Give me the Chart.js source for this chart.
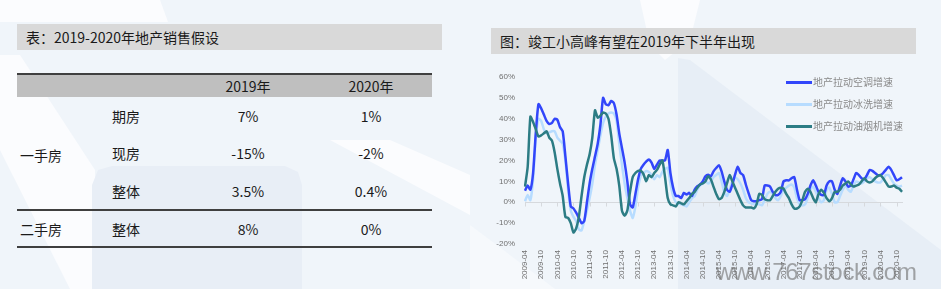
<!DOCTYPE html>
<html>
<head>
<meta charset="utf-8">
<script src="https://cdn.jsdelivr.net/npm/chart.js@4.4.1/dist/chart.umd.min.js"></script>
<style>
html,body{margin:0;padding:0;}
body{width:941px;height:289px;overflow:hidden;position:relative;background:#f0f5fa;font-family:"Noto Sans CJK SC","Microsoft YaHei",sans-serif;color:#1a1a1a;}
.abs{position:absolute;}
.deco{position:absolute;left:0;top:0;width:941px;height:289px;}
.bar{position:absolute;background:#d9d9d9;font-size:14px;line-height:26px;white-space:nowrap;}
.rule{position:absolute;left:17px;width:415px;height:2px;background:#3f3f3f;}
.cell{position:absolute;font-size:14px;line-height:20px;white-space:nowrap;}
.c3{left:188px;width:120px;text-align:center;}
.c4{left:311px;width:120px;text-align:center;}
.lg{position:absolute;left:786px;font-size:10px;color:#8a8a8a;line-height:14px;white-space:nowrap;}
.lg i{display:inline-block;width:26px;height:2.5px;vertical-align:middle;margin-right:1px;margin-top:-2px;}
#wm{position:absolute;left:716px;top:258px;font-family:"Liberation Sans",Arial,sans-serif;font-size:24px;color:rgba(110,110,110,0.6);white-space:nowrap;letter-spacing:-0.3px;}
</style>
</head>
<body>
<!-- background decoration -->
<div class="deco" style="background:#fbfcfe;clip-path:polygon(0 0,160px 0,168px 22px,0 22px);"></div>
<div class="deco" style="background:#fbfcfe;clip-path:polygon(0 55px,20px 55px,95px 170px,95px 289px,70px 289px,0 150px);"></div>
<div class="deco" style="background:#e8eef6;clip-path:polygon(92px 185px,98px 170px,112px 166px,285px 166px,298px 172px,302px 185px,302px 289px,92px 289px);"></div>
<div class="deco" style="background:#fbfcfe;clip-path:polygon(330px 140px,390px 140px,470px 175px,470px 215px);"></div>
<div class="deco" style="background:#fbfcfe;clip-path:polygon(640px 0,700px 0,690px 40px,665px 60px,650px 45px);"></div>
<div class="deco" style="background:#e7eef6;clip-path:polygon(678px 58px,690px 60px,941px 250px,941px 289px,678px 289px);"></div>
<div class="deco" style="background:#f6f9fc;clip-path:polygon(470px 225px,555px 289px,470px 289px);"></div>

<!-- left table -->
<div class="bar" style="left:17px;top:24px;width:425px;height:26px;"><span style="padding-left:9px;">表：2019-2020年地产销售假设</span></div>
<div class="rule" style="top:73px;"></div>
<div class="abs" style="left:17px;top:75px;width:415px;height:22px;background:#bfbfbf;"></div>
<div class="cell c3" style="top:76px;">2019年</div>
<div class="cell c4" style="top:76px;">2020年</div>

<div class="cell" style="left:112px;top:106px;">期房</div>
<div class="cell c3" style="top:106px;">7%</div>
<div class="cell c4" style="top:106px;">1%</div>

<div class="cell" style="left:20px;top:145px;">一手房</div>
<div class="cell" style="left:112px;top:143px;">现房</div>
<div class="cell c3" style="top:143px;">-15%</div>
<div class="cell c4" style="top:143px;">-2%</div>

<div class="cell" style="left:112px;top:181px;">整体</div>
<div class="cell c3" style="top:181px;">3.5%</div>
<div class="cell c4" style="top:181px;">0.4%</div>

<div class="rule" style="top:209px;"></div>

<div class="cell" style="left:20px;top:219px;">二手房</div>
<div class="cell" style="left:112px;top:219px;">整体</div>
<div class="cell c3" style="top:219px;">8%</div>
<div class="cell c4" style="top:219px;">0%</div>

<div class="rule" style="top:246px;"></div>

<!-- right chart -->
<div class="bar" style="left:491px;top:28px;width:425px;height:26px;"><span style="padding-left:9px;">图：竣工小高峰有望在2019年下半年出现</span></div>
<canvas id="c" width="450" height="229" style="position:absolute;left:470px;top:60px;"></canvas>
<div class="lg" style="top:75px;"><i style="background:#3246fa"></i>地产拉动空调增速</div>
<div class="lg" style="top:97px;"><i style="background:#b7dcff"></i>地产拉动冰洗增速</div>
<div class="lg" style="top:119px;"><i style="background:#2c7c84"></i>地产拉动油烟机增速</div>
<div id="wm">www.767stock.com</div>

<script>
// ---- data ----
const categories = [
"2009-04","2009-05","2009-06","2009-07","2009-08","2009-09","2009-10","2009-11","2009-12",
"2010-01","2010-02","2010-03","2010-04","2010-05","2010-06","2010-07","2010-08","2010-09","2010-10","2010-11","2010-12",
"2011-01","2011-02","2011-03","2011-04","2011-05","2011-06","2011-07","2011-08","2011-09","2011-10","2011-11","2011-12",
"2012-01","2012-02","2012-03","2012-04","2012-05","2012-06","2012-07","2012-08","2012-09","2012-10","2012-11","2012-12",
"2013-01","2013-02","2013-03","2013-04","2013-05","2013-06","2013-07","2013-08","2013-09","2013-10","2013-11","2013-12",
"2014-01","2014-02","2014-03","2014-04","2014-05","2014-06","2014-07","2014-08","2014-09","2014-10","2014-11","2014-12",
"2015-01","2015-02","2015-03","2015-04","2015-05","2015-06","2015-07","2015-08","2015-09","2015-10","2015-11","2015-12",
"2016-01","2016-02","2016-03","2016-04","2016-05","2016-06","2016-07","2016-08","2016-09","2016-10","2016-11","2016-12",
"2017-01","2017-02","2017-03","2017-04","2017-05","2017-06","2017-07","2017-08","2017-09","2017-10","2017-11","2017-12",
"2018-01","2018-02","2018-03","2018-04","2018-05","2018-06","2018-07","2018-08","2018-09","2018-10","2018-11","2018-12",
"2019-01","2019-02","2019-03","2019-04","2019-05","2019-06","2019-07","2019-08","2019-09","2019-10","2019-11","2019-12",
"2020-01","2020-02","2020-03","2020-04","2020-05","2020-06","2020-07","2020-08","2020-09","2020-10","2020-11","2020-12"
];

// 地产拉动空调增速 (%)
const airConGrowth = [
5.5,8,6,14,33,47,45,42,39,37.5,38,40,39.5,36,
34,22,9,-2,-3,-5,-7.5,-10,-9,0,9,16,22,28,
37,50,47,46.5,48.5,47.5,42,33,26,19,10,-1,-2.5,4,11,16,18,19.5,20.5,19,16,18,20,20,20,25,14,7,3,3,2,4.5,
3.7,4.5,3,6,7.7,8.5,10,12.4,13.2,12.4,14.8,16.4,17.7,14.8,10,6,5,8.5,13.2,17,14,13,8.5,4.5,
1,0.5,0.5,1,1.5,8,8,7.5,5,3.5,3.5,5,10,10.5,10.5,11.5,12,6,1,1,1.5,4,8,10.5,8,5,3.5,3.5,8,10,
10,6,4,8,11.5,10,7.5,8,11,14,13,11.5,11,13,15.5,15,14,13,13,14,15.5,17,15.5,13,10.5,11,12
];

// 地产拉动冰洗增速 (%)
const fridgeWasherGrowth = [
0.5,3.5,1,11,31,40,39,35,33,33.5,34,34,31,29.5,
28,20,6,-4,-7,-9,-13,-13.5,-9,-4,2,9,18,25,
32,38,41,42.5,43,42.5,39,28,18,9,2,-4,-7.5,-2,7,12.5,14,15,14.5,13,11,13,12,14.5,16,16.5,9,3,0,-0.5,-1,-1.5,
-2,0,2,3,6,8,9,10,9,10,12,13,14,10,5,3,6,10,12,11,9,6,2,0,
-0.5,-1,-0.5,-1,-1.5,1,4,5,4,2,1,3,6,7,8,8.5,7,2,-1,-1.5,-1,2,6,7.5,5,2,0,1,6,7,
4,0,0,3,6,8,6,5,8,10,9.5,9,10,11.5,12,11,10,9.5,9.5,11,13,13,11,9,8,7.5,8
];

// 地产拉动油烟机增速 (%)
const rangeHoodGrowth = [
7.5,17,41,38.5,35,31.5,32,33,34,31,29.5,24,16,9,
3,-7,-7.5,-10,-14.5,-12.5,-7,3,12,18,23,31,44,40.5,
41.5,43,42.5,40,32,21,16,8,-4,-6.5,-4,5,12,14,15,15,13.5,10,13,12,14,15.5,18,20,12,2,-1,-1.5,-2,0,-0.5,-1,
0.5,2,4,5,7,8.5,9,10,12.5,11,7.5,4,1.5,2,5,9,13,10,7,4,1,-1.5,-2.5,-2.5,
-2.5,-3,-1,4,3.5,1.5,1,1,3,5,6.5,7,6.5,4,2,-1,-3,-3,-2,1,5,6.5,5,2,0,4,6,4.5,2,0.5,
2,5,5,6,8,9,10,8.5,7.5,8,8.5,10,11.5,10,9.5,10,11.5,12.5,13,11.5,9.5,7.5,7.5,8,7,6.5,5
];

const yTicks = { min: -20, max: 60, step: 10 };
const labelEvery = 6;

// ---- chart ----
const zeroLine = {
  id: 'zeroLine',
  beforeDatasetsDraw(chart) {
    const { ctx, chartArea, scales } = chart;
    const y0 = Math.round(scales.y.getPixelForValue(0)) + 0.5;
    ctx.save();
    ctx.strokeStyle = '#d6d9dd';
    ctx.lineWidth = 1;
    ctx.beginPath();
    ctx.moveTo(chartArea.left, y0);
    ctx.lineTo(chartArea.right + 1, y0);
    for (let i = 0; i < categories.length; i += labelEvery) {
      const px = Math.round(scales.x.getPixelForValue(i)) + 0.5;
      ctx.moveTo(px, y0);
      ctx.lineTo(px, y0 + 4);
    }
    ctx.stroke();
    ctx.restore();
  }
};

const tickFont = { family: '"Liberation Sans", Arial, sans-serif', size: 8 };

new Chart(document.getElementById('c'), {
  type: 'line',
  data: {
    labels: categories,
    datasets: [
      { label: '地产拉动油烟机增速', data: rangeHoodGrowth, borderColor: '#2c7c84' },
      { label: '地产拉动空调增速', data: airConGrowth, borderColor: '#3246fa' },
      { label: '地产拉动冰洗增速', data: fridgeWasherGrowth, borderColor: '#b7dcff' }
    ]
  },
  options: {
    responsive: false,
    animation: false,
    devicePixelRatio: 1,
    datasets: { line: { borderWidth: 2.5, pointRadius: 0, tension: 0.2, fill: false } },
    layout: { padding: { top: 17, right: 18, left: 0, bottom: 0 } },
    plugins: { legend: { display: false }, tooltip: { enabled: false } },
    scales: {
      x: {
        type: 'category',
        offset: false,
        grid: { display: false, drawTicks: false },
        border: { display: false },
        ticks: {
          autoSkip: false, maxRotation: 90, minRotation: 90, padding: 6,
          font: tickFont, color: '#6f6f6f',
          callback: function (v, i) { return i % labelEvery === 0 ? this.getLabelForValue(v) : null; }
        },
        afterFit: s => { s.height = 45; }
      },
      y: {
        min: yTicks.min, max: yTicks.max,
        grid: { display: false, drawTicks: false },
        border: { display: false },
        ticks: { stepSize: yTicks.step, padding: 10, font: tickFont, color: '#6f6f6f', callback: v => v + '%' },
        afterFit: s => { s.width = 55; }
      }
    }
  },
  plugins: [zeroLine]
});
</script>
</body>
</html>
